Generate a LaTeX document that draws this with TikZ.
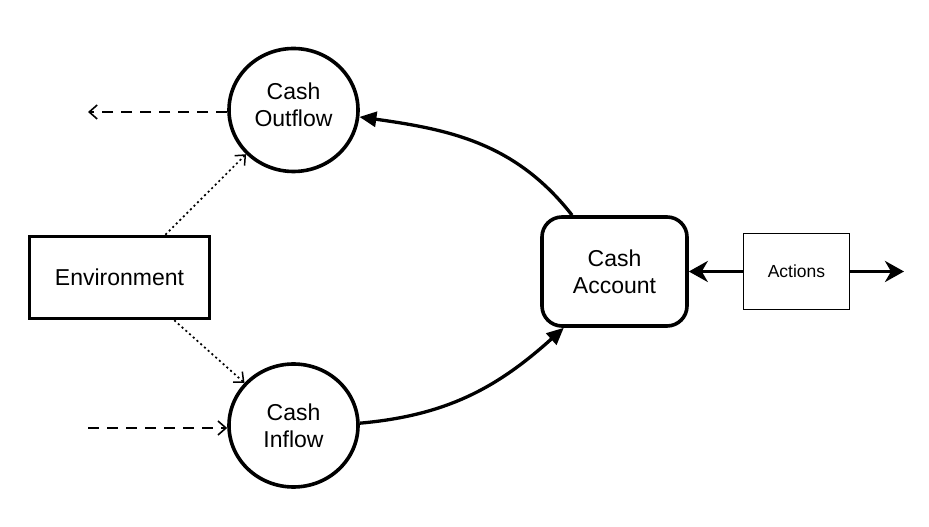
\documentclass[tikz,border=0pt]{standalone}
\usepackage{fontspec}
\setmainfont{Liberation Sans}
\usetikzlibrary{arrows.meta,calc,shapes.geometric}
\newcommand{\twolines}[3]{\raisebox{#1}[\height][\depth]{\begin{tabular}{@{}c@{}}#2\\#3\end{tabular}}}
\begin{document}
\begin{tikzpicture}[x=1pt,y=1pt,
  flowcirc/.style={ellipse,draw,line width=3.6pt,minimum width=129pt,minimum height=123pt,inner sep=0pt,align=center,font=\fontsize{23}{27}\selectfont},
  envbox/.style={draw,line width=3.6pt,minimum width=180pt,minimum height=82pt,inner sep=0pt,font=\fontsize{23}{27}\selectfont},
  accbox/.style={draw,line width=3.6pt,rounded corners=20pt,minimum width=145pt,minimum height=109pt,inner sep=0pt,align=center,font=\fontsize{23}{27}\selectfont},
  actbox/.style={draw,line width=1.5pt,minimum width=106pt,minimum height=76pt,inner sep=0pt,font=\fontsize{17.5}{20}\selectfont},
  thickarrow/.style={line width=3.3pt,-{Triangle[length=17pt,width=15pt]}},
  actarrow/.style={line width=3.3pt,-{Stealth[length=19pt,width=21pt,inset=6pt]}},
  dashedarrow/.style={line width=1.8pt,dash pattern=on 11pt off 8pt,-{Straight Barb[length=8pt,width=14pt,line width=1.6pt]}},
  dottedarrow/.style={line width=1.7pt,dash pattern=on 2pt off 3pt,-{Straight Barb[length=8pt,width=14pt,line width=1.5pt]}}
]
\useasboundingbox (0,0) rectangle (929,527);
\node[flowcirc] (outflow) at (293.5,417) {\twolines{2pt}{Cash}{Outflow}};
\node[flowcirc] (inflow) at (293.5,101.5) {\twolines{-3.5pt}{Cash}{Inflow}};
\node[envbox] (env) at (119.5,249.5) {Environment};
\node[accbox] (acc) at (614.5,255.5) {Cash\\Account};
\node[actbox] (act) at (796.5,255.5) {Actions};
\coordinate (outend) at (88,415);
\coordinate (instart) at (88,99);
\coordinate (actend) at (904,255.5);

\draw[actarrow] (act.west) -- (acc.east);
\draw[actarrow] (act.east) -- (actend);
\draw[thickarrow] (acc.127) to[out=128,in=-8] (outflow.-6);
\draw[thickarrow] (inflow.2) to[out=5,in=222] (acc.228);
\draw[dashedarrow] (outflow.west |- outend) -- (outend);
\draw[dashedarrow] (instart) -- (instart -| inflow.west);
\draw[dottedarrow] (env.43) -- (outflow.223);
\draw[dottedarrow] (env.-38) -- (inflow.139);
\end{tikzpicture}
\end{document}
